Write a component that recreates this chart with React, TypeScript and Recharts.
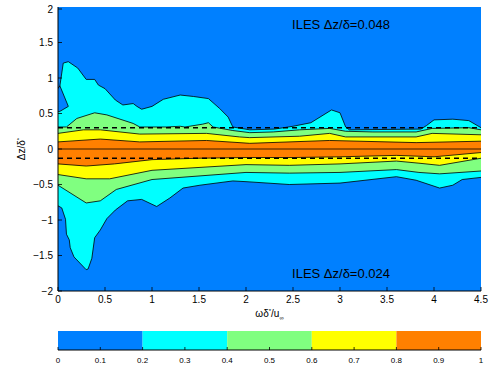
import { Area, Bar, BarChart, CartesianGrid, ComposedChart, Label, ReferenceDot, ReferenceLine, XAxis, YAxis } from 'recharts'

const FONT = '"Liberation Sans", Arial, Helvetica, sans-serif'

const xTicks = [0, 0.5, 1, 1.5, 2, 2.5, 3, 3.5, 4, 4.5]
const yTicks = [-2, -1.5, -1, -0.5, 0, 0.5, 1, 1.5, 2]
const colorbarTicks = [0, 0.1, 0.2, 0.3, 0.4, 0.5, 0.6, 0.7, 0.8, 0.9, 1]
const colorbarLevels = [0, 0.2, 0.4, 0.6, 0.8, 1]
const levelColors = ['#0080ff', '#00ffff', '#80ff80', '#ffff00', '#ff8000']

// contour lines, [omega delta*/u, dz/delta*]
// upper half: ILES dz/delta = 0.048
const upper02 = [
  [0, 0.85], [0.02, 0.89], [0.056, 1.21], [0.11, 1.23], [0.21, 1.14], [0.3, 0.98], [0.39, 0.98],
  [0.43, 0.9], [0.5, 0.85], [0.61, 0.69], [0.69, 0.62], [0.8, 0.64], [0.84, 0.6], [0.89, 0.56],
  [1.0, 0.6], [1.12, 0.7], [1.3, 0.76], [1.44, 0.74], [1.6, 0.71], [1.72, 0.57], [1.81, 0.45],
  [1.86, 0.31], [2.04, 0.27], [2.3, 0.28], [2.5, 0.32], [2.69, 0.37], [2.91, 0.55], [3.0, 0.51],
  [3.06, 0.31], [3.1, 0.27], [3.86, 0.28], [3.92, 0.33], [4.0, 0.41], [4.2, 0.42], [4.37, 0.4],
  [4.5, 0.3],
]
const upper04 = [
  [0, 0.31], [0.09, 0.31], [0.2, 0.43], [0.39, 0.51], [0.52, 0.48], [0.8, 0.36], [0.87, 0.31],
  [1.15, 0.31], [1.3, 0.32], [1.35, 0.31], [1.54, 0.35], [1.6, 0.37], [1.65, 0.31], [1.86, 0.26],
  [2.04, 0.23], [2.29, 0.24], [2.57, 0.27], [2.89, 0.29], [3.06, 0.25], [3.35, 0.24], [3.81, 0.24],
  [3.98, 0.29], [4.37, 0.3], [4.5, 0.27],
]
const upper06 = [
  [0, 0.22], [0.27, 0.27], [0.45, 0.27], [0.87, 0.21], [1.58, 0.22], [1.93, 0.17], [2.04, 0.16],
  [2.57, 0.18], [2.89, 0.22], [3.06, 0.17], [3.81, 0.17], [3.98, 0.22], [4.5, 0.2],
]
const upper08 = [
  [0, 0.1], [0.45, 0.14], [0.87, 0.1], [1.58, 0.12], [2.04, 0.08], [2.89, 0.12], [3.81, 0.09],
  [4.5, 0.11],
]

// lower half: ILES dz/delta = 0.024
const lower02 = [
  [0, -0.8], [0.04, -0.83], [0.08, -0.99], [0.09, -1.2], [0.12, -1.28], [0.13, -1.39], [0.17, -1.52],
  [0.3, -1.7], [0.32, -1.69], [0.36, -1.54], [0.39, -1.25], [0.45, -1.14], [0.52, -0.98],
  [0.61, -0.86], [0.74, -0.73], [0.89, -0.71], [1.05, -0.81], [1.19, -0.69], [1.33, -0.55],
  [1.51, -0.51], [1.86, -0.45], [2.0, -0.46], [2.46, -0.5], [3.0, -0.48], [3.6, -0.39],
  [3.81, -0.44], [4.06, -0.55], [4.2, -0.51], [4.3, -0.43], [4.5, -0.4],
]
const lower04 = [
  [0, -0.51], [0.3, -0.76], [0.45, -0.73], [0.62, -0.57], [1.0, -0.43], [1.5, -0.38], [2.0, -0.33],
  [2.46, -0.34], [3.0, -0.33], [3.6, -0.29], [3.84, -0.33], [4.06, -0.35], [4.5, -0.31],
]
const lower06 = [
  [0, -0.36], [0.3, -0.42], [0.55, -0.42], [1.0, -0.3], [1.5, -0.26], [2.0, -0.22], [2.46, -0.23],
  [3.0, -0.21], [3.6, -0.17], [3.84, -0.2], [4.06, -0.23], [4.5, -0.13],
]
const lower08 = [
  [0, -0.21], [0.3, -0.24], [0.6, -0.21], [1.0, -0.15], [1.5, -0.13], [2.0, -0.12], [2.5, -0.12],
  [3.0, -0.11], [3.6, -0.09], [4.0, -0.11], [4.5, -0.05],
]
// small blue pocket at the left edge of the upper cyan band
const leftPocket = [
  [0, 0.525, 0.85], [0.02, 0.53, 0.89], [0.11, 0.6, 0.6],
]

const dashedLevels = [0.3, -0.13]
const annotations = [
  { x: 2.49, y: 1.75, text: 'ILES \u0394z/\u03b4=0.048' },
  { x: 2.49, y: -1.76, text: 'ILES \u0394z/\u03b4=0.024' },
]

const toPoints = (pairs: number[][]) => pairs.map(([x, z]) => ({ x, z }))

const contourLayers = [
  { key: 'c1u', data: toPoints(upper02), color: levelColors[1] },
  { key: 'c1l', data: toPoints(lower02), color: levelColors[1] },
  { key: 'pocket', data: leftPocket.map(([x, lo, hi]) => ({ x, z: [lo, hi] })), color: levelColors[0] },
  { key: 'c2u', data: toPoints(upper04), color: levelColors[2] },
  { key: 'c2l', data: toPoints(lower04), color: levelColors[2] },
  { key: 'c3u', data: toPoints(upper06), color: levelColors[3] },
  { key: 'c3l', data: toPoints(lower06), color: levelColors[3] },
  { key: 'c4u', data: toPoints(upper08), color: levelColors[4] },
  { key: 'c4l', data: toPoints(lower08), color: levelColors[4] },
]

const colorbarRow: Record<string, number | string> = { name: 'cb' }
levelColors.forEach((_, i) => {
  colorbarRow[`s${i}`] = colorbarLevels[i + 1] - colorbarLevels[i]
})

const fmt = (v: number) => (v < 0 ? `\u2212${Math.abs(v)}` : `${v}`)

const BottomTick = ({ x, y, payload }: any) => (
  <g>
    <line x1={x} x2={x} y1={y} y2={y - 4} stroke="#000" strokeWidth={0.8} />
    <text x={x} y={y + 12} textAnchor="middle" fontSize={10} fontFamily={FONT} fill="#000">
      {fmt(payload.value)}
    </text>
  </g>
)
const TopTick = ({ x, y }: any) => <line x1={x} x2={x} y1={y} y2={y + 4} stroke="#000" strokeWidth={0.8} />
const LeftTick = ({ x, y, payload }: any) => (
  <g>
    <line x1={x} x2={x + 4} y1={y} y2={y} stroke="#000" strokeWidth={0.8} />
    <text x={x - 5} y={y + 3.5} textAnchor="end" fontSize={10} fontFamily={FONT} fill="#000">
      {fmt(payload.value)}
    </text>
  </g>
)
const RightTick = ({ x, y }: any) => <line x1={x} x2={x - 4} y1={y} y2={y} stroke="#000" strokeWidth={0.8} />

const CbBottomTick = ({ x, y, payload }: any) => (
  <g>
    <line x1={x} x2={x} y1={y} y2={y - 3} stroke="#000" strokeWidth={0.8} />
    <text x={x} y={y + 13} textAnchor="middle" fontSize={8} fontFamily={FONT} fill="#000">
      {payload.value}
    </text>
  </g>
)
const CbTopTick = ({ x, y }: any) => <line x1={x} x2={x} y1={y} y2={y + 3} stroke="#000" strokeWidth={0.8} />

const XLabel = ({ viewBox }: any) => (
  <text x={viewBox.x + viewBox.width / 2} y={viewBox.y + 26} textAnchor="middle" fontSize={10} fontFamily={FONT} fill="#000">
    {'\u03c9\u03b4'}
    <tspan fontSize={6} dy={-4}>*</tspan>
    <tspan dy={4}>/u</tspan>
    <tspan fontSize={6} dy={3}>{'\u221e'}</tspan>
  </text>
)
const YLabel = ({ viewBox }: any) => {
  const cx = viewBox.x + 25
  const cy = viewBox.y + viewBox.height / 2
  return (
    <text x={cx} y={cy} transform={`rotate(-90 ${cx} ${cy})`} textAnchor="middle" fontSize={10} fontFamily={FONT} fill="#000">
      {'\u0394z/\u03b4'}
      <tspan fontSize={6} dy={-4}>*</tspan>
    </text>
  )
}

export default function App() {
  return (
    <div style={{ position: 'absolute', left: 0, top: 0, width: 493, height: 368, background: '#fff' }}>
      <ComposedChart width={493} height={325} margin={{ top: 7, right: 12, bottom: 0, left: 0 }}>
        <CartesianGrid horizontal={false} vertical={false} fill={levelColors[0]} fillOpacity={1} />
        <XAxis
          dataKey="x"
          type="number"
          domain={[0, 4.5]}
          ticks={xTicks}
          allowDataOverflow
          height={34}
          tickSize={0}
          tickMargin={0}
          tickLine={false}
          tick={BottomTick}
          axisLine={{ stroke: '#000' }}
        >
          <Label content={XLabel} />
        </XAxis>
        <XAxis
          xAxisId="top"
          orientation="top"
          type="number"
          domain={[0, 4.5]}
          ticks={xTicks}
          allowDataOverflow
          height={0}
          tickSize={0}
          tickMargin={0}
          tickLine={false}
          tick={TopTick}
          axisLine={{ stroke: '#000' }}
        />
        <YAxis
          type="number"
          domain={[-2, 2]}
          ticks={yTicks}
          allowDataOverflow
          width={58}
          tickSize={0}
          tickMargin={0}
          tickLine={false}
          tick={LeftTick}
          axisLine={{ stroke: '#000' }}
        >
          <Label content={YLabel} />
        </YAxis>
        <YAxis
          yAxisId="right"
          orientation="right"
          type="number"
          domain={[-2, 2]}
          ticks={yTicks}
          allowDataOverflow
          width={0}
          tickSize={0}
          tickMargin={0}
          tickLine={false}
          tick={RightTick}
          axisLine={{ stroke: '#000' }}
        />
        {contourLayers.map((layer) => (
          <Area
            key={layer.key}
            data={layer.data}
            dataKey="z"
            type="linear"
            baseValue={0}
            fill={layer.color}
            fillOpacity={1}
            stroke="#000"
            strokeWidth={0.8}
            dot={false}
            activeDot={false}
            isAnimationActive={false}
          />
        ))}
        <ReferenceLine y={0} stroke="#000" strokeWidth={0.8} />
        {dashedLevels.map((lv) => (
          <ReferenceLine key={lv} y={lv} stroke="#000" strokeWidth={1.5} strokeDasharray="5 4" />
        ))}
        {annotations.map((a) => (
          <ReferenceDot
            key={a.text}
            x={a.x}
            y={a.y}
            r={0}
            fill="none"
            stroke="none"
            label={{
              content: ({ viewBox }: any) => (
                <text x={viewBox.x} y={viewBox.y + 4.5} fontSize={13} fontFamily={FONT} fill="#000">
                  {a.text}
                </text>
              ),
            }}
          />
        ))}
      </ComposedChart>
      <BarChart
        width={493}
        height={43}
        layout="vertical"
        data={[colorbarRow]}
        margin={{ top: 6, right: 12, bottom: 0, left: 58 }}
        barCategoryGap={0}
      >
        <XAxis
          type="number"
          domain={[0, 1]}
          ticks={colorbarTicks}
          height={18}
          tickSize={0}
          tickMargin={0}
          tickLine={false}
          tick={CbBottomTick}
          axisLine={{ stroke: '#000' }}
        />
        <XAxis
          xAxisId="top"
          orientation="top"
          type="number"
          domain={[0, 1]}
          ticks={colorbarTicks}
          height={0}
          tickSize={0}
          tickMargin={0}
          tickLine={false}
          tick={CbTopTick}
          axisLine={{ stroke: '#000' }}
        />
        <YAxis type="category" dataKey="name" width={0} tick={false} tickLine={false} axisLine={{ stroke: '#000' }} />
        <YAxis
          yAxisId="right"
          orientation="right"
          type="number"
          domain={[0, 1]}
          width={0}
          tick={false}
          tickLine={false}
          axisLine={{ stroke: '#000' }}
        />
        {levelColors.map((c, i) => (
          <Bar key={c} dataKey={`s${i}`} stackId="cb" fill={c} isAnimationActive={false} />
        ))}
      </BarChart>
    </div>
  )
}
